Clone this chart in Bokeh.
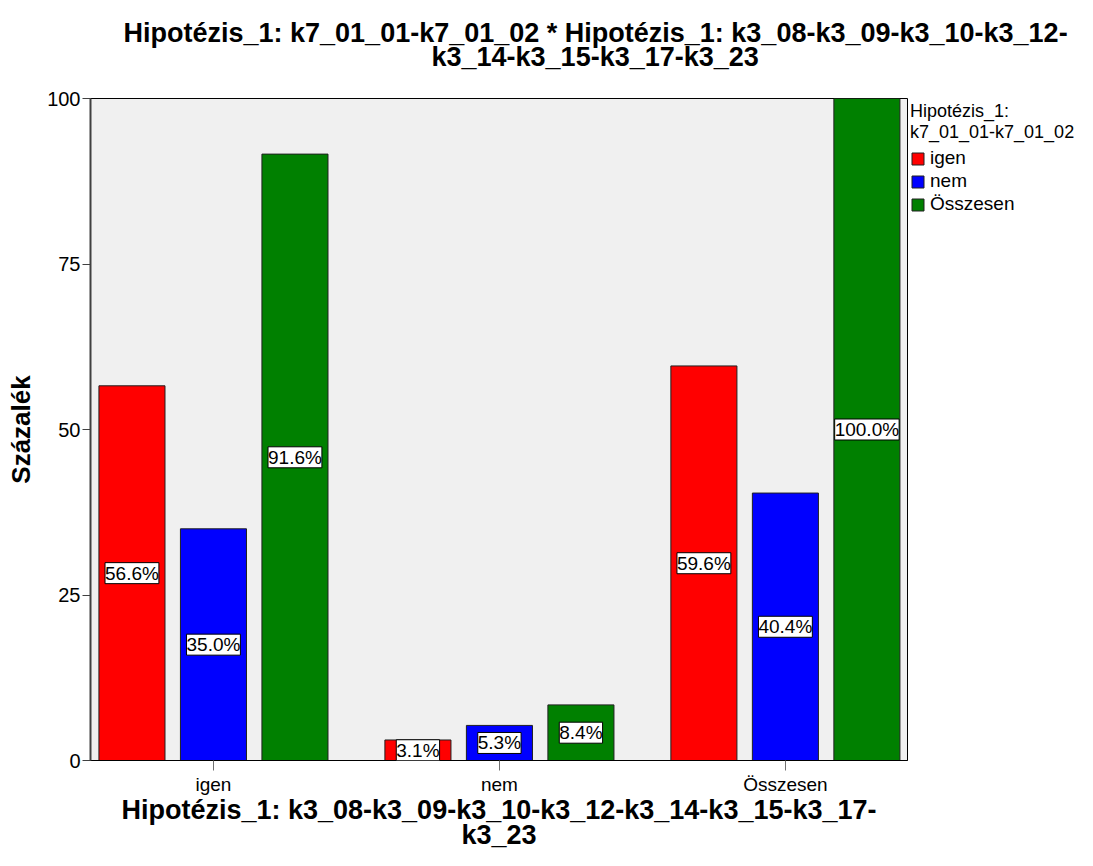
from bokeh.plotting import figure
from bokeh.models import (ColumnDataSource, Range1d, FixedTicker, LabelSet,
                          Legend, LegendItem, Title)
from bokeh.core.properties import value
from bokeh.embed import file_html
from bokeh.resources import INLINE

# ---- data ----
categories = ["igen", "nem", "Összesen"]
series = ["igen", "nem", "Összesen"]
igen_pct = [56.6, 3.1, 59.6]
nem_pct = [35.0, 5.3, 40.4]
total_pct = [91.6, 8.4, 100.0]
series_values = [igen_pct, nem_pct, total_pct]
colors = ["#FF0000", "#0000FF", "#008000"]
y_ticks = [0, 25, 50, 75, 100]
title_lines = ["Hipotézis_1: k7_01_01-k7_01_02 * Hipotézis_1: k3_08-k3_09-k3_10-k3_12-",
               "k3_14-k3_15-k3_17-k3_23"]
x_title = "Hipotézis_1: k3_08-k3_09-k3_10-k3_12-k3_14-k3_15-k3_17-\nk3_23"
y_title = "Százalék"
legend_title = "Hipotézis_1:\nk7_01_01-k7_01_02"

FONT = "Liberation Sans"
W, H = 1077, 850
FL, FR, FT, FB = 90, 907, 98, 760

p = figure(frame_width=FR - FL, frame_height=FB - FT,
           x_range=Range1d(-0.430, 2.427), y_range=Range1d(0, 100),
           output_backend="svg", toolbar_location=None, title_location=None,
           min_border_left=FL, min_border_right=W - FR,
           min_border_top=FT, min_border_bottom=H - FB)

p.background_fill_color = "#F0F0F0"
p.border_fill_color = "white"
p.outline_line_color = "black"
p.outline_line_width = 1
p.xgrid.visible = False
p.ygrid.visible = False

offsets = [-0.285, 0.0, 0.285]
bar_w = 0.231
renderers = []
for vals, col, off in zip(series_values, colors, offsets):
    src = ColumnDataSource(dict(
        x=[i + off for i in range(len(categories))],
        top=vals,
        mid=[v / 2 for v in vals],
        lab=[f"{v:.1f}%" for v in vals]))
    r = p.vbar(x="x", top="top", bottom=0, width=bar_w, source=src,
               fill_color=col, line_color="#202020", line_width=1)
    renderers.append(r)
    p.add_layout(LabelSet(x="x", y="mid", text="lab", source=src,
                          text_align="center", text_baseline="middle",
                          text_font=value(FONT), text_font_size=value("19px"),
                          text_color="black",
                          background_fill_color="white",
                          border_line_color="black", border_line_width=1))

# y axis
p.yaxis.ticker = FixedTicker(ticks=y_ticks)
p.yaxis.axis_label = y_title
p.yaxis.axis_label_text_font = FONT
p.yaxis.axis_label_text_font_size = "26px"
p.yaxis.axis_label_text_font_style = "bold"
p.yaxis.axis_label_text_color = "black"
p.yaxis.axis_label_standoff = 8
p.yaxis.major_label_text_font = FONT
p.yaxis.major_label_text_font_size = "20px"
p.yaxis.major_label_text_color = "black"
p.yaxis.major_tick_out = 8
p.yaxis.major_tick_in = 0
p.yaxis.minor_tick_out = 0
p.yaxis.minor_tick_in = 0
p.yaxis.axis_line_color = "#404040"
p.yaxis.axis_line_width = 2
p.yaxis.major_tick_line_color = "#404040"
p.yaxis.major_label_standoff = 2

# x axis
p.xaxis.ticker = FixedTicker(ticks=list(range(len(categories))))
p.xaxis.major_label_overrides = {i: c for i, c in enumerate(categories)}
p.xaxis.axis_label = x_title
p.xaxis.axis_label_text_font = FONT
p.xaxis.axis_label_text_font_size = "27px"
p.xaxis.axis_label_text_font_style = "bold"
p.xaxis.axis_label_text_color = "black"
p.xaxis.axis_label_text_line_height = 0.85
p.xaxis.axis_label_standoff = -3
p.xaxis.major_label_text_font = FONT
p.xaxis.major_label_text_font_size = "19px"
p.xaxis.major_label_text_color = "black"
p.xaxis.major_tick_out = 10
p.xaxis.major_tick_in = 0
p.xaxis.minor_tick_out = 0
p.xaxis.axis_line_color = "black"
p.xaxis.major_tick_line_color = "#707070"
p.xaxis.major_label_standoff = 3

# title: two lines, each its own Title (closest to the frame first)
TSIZE = 27
line_em = [34.962, 12.119]   # Arial-bold widths of the two lines in em
center_x = 595 - FL
p.add_layout(Title(text=" ", text_font_size="10px", standoff=14), "above")
p.add_layout(Title(text=title_lines[1], align="left",
                   offset=int(center_x - line_em[1] * TSIZE / 2),
                   text_font=FONT, text_font_size=f"{TSIZE}px", text_font_style="bold",
                   text_color="black", standoff=0, vertical_align="bottom"), "above")
p.add_layout(Title(text=title_lines[0], align="left",
                   offset=int(center_x - line_em[0] * TSIZE / 2),
                   text_font=FONT, text_font_size=f"{TSIZE}px", text_font_style="bold",
                   text_color="black", standoff=-16, vertical_align="bottom"), "above")

legend = Legend(items=[LegendItem(label=s, renderers=[r]) for s, r in zip(series, renderers)],
                location="top_left", title=legend_title,
                title_text_font=FONT, title_text_font_size="18px",
                title_text_font_style="normal", title_text_color="black",
                title_standoff=4,
                glyph_width=15, glyph_height=15, label_standoff=5,
                label_text_font=FONT, label_text_font_size="19px",
                label_text_color="black",
                label_height=18, spacing=1, padding=0, margin=3,
                background_fill_alpha=0, border_line_alpha=0)
p.add_layout(legend, "right")

open("out.html", "w").write(file_html(p, INLINE))
